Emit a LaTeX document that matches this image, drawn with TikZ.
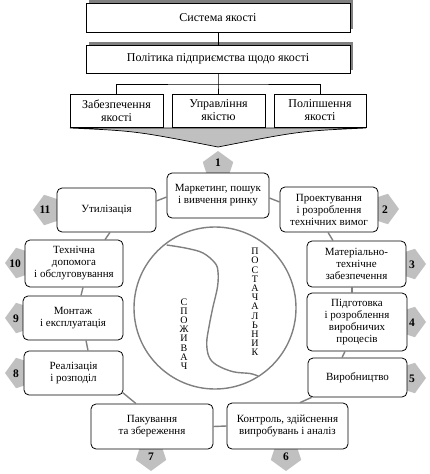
\documentclass[tikz,border=0pt]{standalone}
\usepackage{fontspec}
\setmainfont{Liberation Serif}
\usetikzlibrary{shapes.geometric,calc,backgrounds}
\definecolor{badgegray}{RGB}{192,192,192}
\definecolor{shadowgray}{RGB}{128,128,128}
\definecolor{linkgray}{RGB}{128,128,128}
\begin{document}
\begin{tikzpicture}[x=1pt,y=-1pt,
  every node/.style={font=\fontsize{11}{12}\selectfont},
  topbox/.style={draw, fill=white, line width=0.8pt, inner sep=1pt, align=center, font=\fontsize{12}{13}\selectfont},
  cyc/.style={draw, fill=white, rounded corners=5pt, line width=0.8pt, inner sep=1pt, align=center},
  badge/.style={regular polygon, regular polygon sides=5, fill=badgegray, minimum size=32pt, inner sep=0pt},
  num/.style={font=\fontsize{11.5}{12}\selectfont\bfseries, inner sep=0pt},
  link/.style={draw=linkgray, line width=1.4pt},
  vert/.style={align=center, inner sep=0pt, font=\fontsize{10}{9.2}\selectfont},
]
\useasboundingbox (0,0) rectangle (429,474);

% ---- top part ----
\node[topbox, minimum width=264pt, minimum height=29pt] (s1) at (218,17.5) {Система якості};
\node[topbox, minimum width=264pt, minimum height=28pt] (s2) at (218,59) {Політика підприємства щодо якості};
\begin{scope}[on background layer]
\fill[shadowgray] ([shift={(3,-3)}]s1.north west) rectangle ([shift={(3,-3)}]s1.south east);
\fill[shadowgray] ([shift={(3,-3)}]s2.north west) rectangle ([shift={(3,-3)}]s2.south east);
\end{scope}

\coordinate (tl) at (70,128);
\coordinate (tr) at (366,128);
\coordinate (tp) at (218,147);
\filldraw[fill=badgegray, draw=black, line width=0.7pt] (tl) -- (tr) .. controls (300,131) .. (tp) .. controls (136,131) .. (tl) -- cycle;

\node[topbox, minimum width=93pt, minimum height=33pt] (q1) at (116.5,110.5) {Забезпечення\\якості};
\node[topbox, minimum width=93pt, minimum height=33pt] (q2) at (218.5,110.5) {Управління\\якістю};
\node[topbox, minimum width=92pt, minimum height=33pt] (q3) at (320,110.5) {Поліпшення\\якості};

\coordinate (j) at (218,84);
\draw[line width=0.8pt] (s1) -- (s2);
\draw[line width=0.8pt] (s2.south) -- (j) -- (j |- q2.north);
\draw[line width=0.8pt] (q1.north) |- (j) -| (q3.north);

% ---- badges ----
\node[badge] (b1)  at (218,167) {};
\node[badge, shape border rotate=270] (b2)  at (383,209) {};
\node[badge, shape border rotate=270] (b3)  at (410,264) {};
\node[badge, shape border rotate=270] (b4)  at (410,322) {};
\node[badge, shape border rotate=270] (b5)  at (410,378) {};
\node[badge, shape border rotate=180] (b6)  at (286,455) {};
\node[badge, shape border rotate=180] (b7)  at (151,455) {};
\node[badge, shape border rotate=90] (b8)  at (21,373) {};
\node[badge, shape border rotate=90] (b9)  at (21,318) {};
\node[badge, shape border rotate=90] (b10) at (21,263) {};
\node[badge, shape border rotate=90] (b11) at (49,210) {};

\node[num] (n1)  at (218,163) {1};
\node[num] (n2)  at (385,210) {2};
\node[num] (n3)  at (412,265) {3};
\node[num] (n4)  at (412,323) {4};
\node[num] (n5)  at (412,379) {5};
\node[num] (n6)  at (286,457) {6};
\node[num] (n7)  at (151,457) {7};
\node[num] (n8)  at (16,374) {8};
\node[num] (n9)  at (16,319) {9};
\node[num] (n10) at (15,264) {10};
\node[num] (n11) at (45,210) {11};

% ---- circle ----
\draw[link] (215,308) circle[radius=81pt];
\draw[link] plot[smooth, tension=0.6] coordinates {(166.7,245) (186.7,248.3) (203,253) (215,263) (218,272) (217.5,287) (213,306.7) (209,326.7) (206.7,343) (209,356.7) (216.7,365) (233,371.7) (250,373.5) (258,376)};
\node[vert] (tc) at (184,334) {С\\П\\О\\Ж\\И\\В\\А\\Ч};
\node[vert] (ts) at (255,302) {П\\О\\С\\Т\\А\\Ч\\А\\Л\\Ь\\Н\\И\\К};

% ---- cycle boxes ----
\node[cyc, minimum width=102pt, minimum height=45pt] (c1)  at (218,195.5) {Маркетинг, пошук\\і вивчення ринку};
\node[cyc, minimum width=98pt,  minimum height=45pt] (c2)  at (329,209.5) {Проектування\\і розроблення\\технічних вимог};
\node[cyc, minimum width=99pt,  minimum height=46pt] (c3)  at (356.5,264) {Матеріально-\\технічне\\забезпечення};
\node[cyc, minimum width=100pt, minimum height=58pt] (c4)  at (357,322) {Підготовка\\і розроблення\\виробничих\\процесів};
\node[cyc, minimum width=99pt,  minimum height=39pt] (c5)  at (357.5,377.5) {Виробництво};
\node[cyc, minimum width=121pt, minimum height=46pt] (c6)  at (287.5,426) {Контроль, здійснення\\випробувань і аналіз};
\node[cyc, minimum width=122pt, minimum height=45pt] (c7)  at (152,426.5) {Пакування\\та збереження};
\node[cyc, minimum width=99pt,  minimum height=44pt] (c8)  at (73.5,373) {Реалізація\\і розподіл};
\node[cyc, minimum width=100pt, minimum height=44pt] (c9)  at (73,318) {Монтаж\\і експлуатація};
\node[cyc, minimum width=98pt,  minimum height=47pt] (c10) at (74,263.5) {Технічна\\допомога\\і обслуговування};
\node[cyc, minimum width=99pt,  minimum height=44pt] (c11) at (106.5,210) {Утилізація};

% ---- connectors ----
\draw[link] ([yshift=-2.5pt]c1.east) -- ([yshift=7.5pt]c2.west);
\draw[link] ([xshift=-1pt]c2.south) -- ([xshift=-23.5pt]c3.north);
\draw[link] ([xshift=-4.5pt]c3.south) -- ([xshift=-5pt]c4.north);
\draw[link] ([xshift=-12pt]c4.south) -- ([xshift=-15.5pt]c5.north);
\draw[link] ([xshift=4pt]c5.south west) -- ([xshift=12.5pt]c6.north);
\draw[link] (c6.west) -- (c7.east);
\draw[link] ([xshift=-16pt]c7.north) -- ([xshift=-1pt,yshift=3pt]c8.south east);
\draw[link] ([xshift=14.5pt]c8.north) -- ([xshift=13pt]c9.south);
\draw[link] ([xshift=8pt]c9.north) -- ([xshift=9pt]c10.south);
\draw[link] ([xshift=31pt]c10.north) -- ([xshift=3.5pt]c11.south);
\draw[link] ([yshift=9pt]c11.east) -- ([yshift=-1.5pt]c1.west);
\end{tikzpicture}
\end{document}
